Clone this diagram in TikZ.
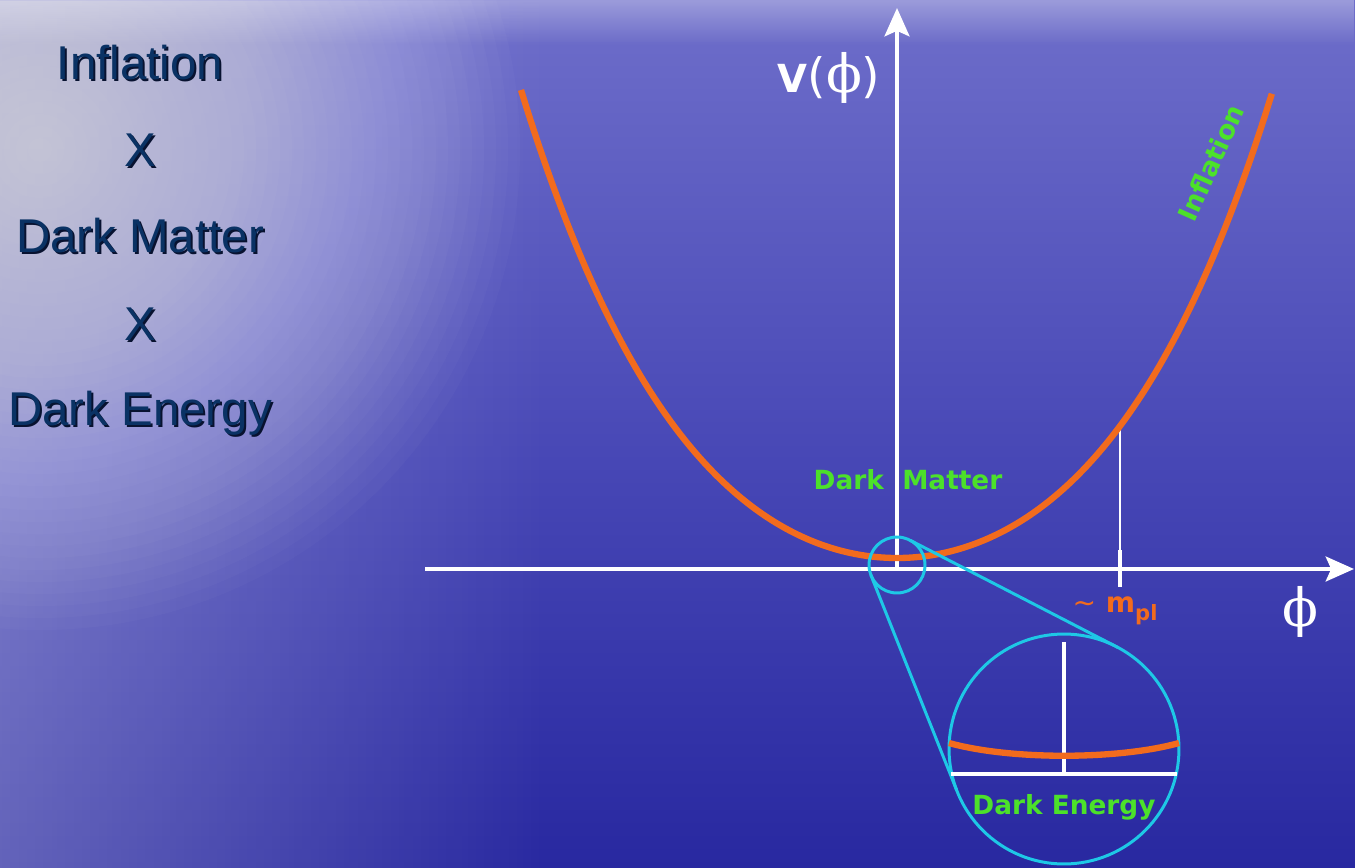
\documentclass[tikz,border=0pt]{standalone}
\usepackage{fontspec}
\setmainfont{Liberation Sans}
\newfontfamily\labelfont{DejaVu Sans}
\newfontfamily\phifont{DejaVu Serif}
\usepackage{tikz}
\usetikzlibrary{arrows.meta, positioning, fadings, calc}
\definecolor{seatop}{RGB}{110,110,202}
\definecolor{seamid}{RGB}{72,72,182}
\definecolor{seabottom}{RGB}{40,40,160}
\definecolor{navytext}{HTML}{0A3264}
\definecolor{navyshade}{HTML}{081230}
\definecolor{potorange}{HTML}{F26B1D}
\definecolor{labelgreen}{HTML}{4CE12A}
\definecolor{lenscyan}{HTML}{1EC8E6}

\begin{document}
\begin{tikzpicture}[
        x=0.02cm, y=-0.02cm,
        lefttext/.style = {anchor=base, font=\fontsize{27}{30}\selectfont, text=navytext, inner sep=0pt},
        greenlabel/.style = {font=\labelfont\bfseries\fontsize{15}{18}\selectfont, text=labelgreen, inner sep=0pt},
        axis/.style = {draw=white, line width=2.8pt, -{Stealth[length=16pt, width=14pt, inset=3pt]}},
        potential/.style = {draw=potorange, line width=3.6pt},
        lens/.style = {draw=lenscyan, line width=1.7pt, circle, inner sep=0pt, outer sep=0pt},
        tick/.style = {draw=white, line width=2.2pt},
        guide/.style = {draw=white, line width=0.7pt}
    ]

        % background
        \useasboundingbox (0,0) rectangle (1355,868);
        \shade[top color=seatop, bottom color=seamid] (0,0) rectangle (1355,451);
        \shade[top color=seamid, bottom color=seabottom] (0,450) rectangle (1355,868);
        \fill[white, opacity=0.35, path fading=east] (-150,0) rectangle (550,868);
        \foreach \r in {12,24,...,480}
            \fill[white, opacity=0.022] (40,150) circle (\r);
        \fill[white, opacity=0.45, path fading=south] (0,-20) rectangle (1355,45);

        % left column
        \foreach \txt/\ypos [count=\i] in {Inflation/80, X/167, Dark Matter/253, X/340, Dark Energy/425} {
            \node[lefttext, text=navyshade] (shade\i) at (142,\ypos+2) {\txt};
            \node[lefttext] (left\i) at (140,\ypos) {\txt};
        }

        % axes
        \coordinate (origin) at (897,569);
        \coordinate (xstart) at (425,569);
        \coordinate (xend) at (1354,569);
        \coordinate (ytop) at (897,8);
        \coordinate (mpl) at (1120,569);
        \coordinate (mplcurve) at (1120,428);

        \draw[axis] (xstart) -- (xend);
        \draw[axis] (origin) -- (ytop);
        \draw[tick] ($(mpl)+(0,-19)$) -- ($(mpl)+(0,18)$);
        \draw[guide] (mplcurve) -- ($(mpl)+(0,-19)$);

        \draw[potential] plot[domain=-3.76:3.75, samples=120, smooth]
            ({897+100*\x}, {558-22.97*\x*\x-0.717*\x*\x*\x*\x});

        \node (vlabel) at (829,78) {\color{white}\labelfont\bfseries\fontsize{22}{26}\selectfont V\mdseries\fontsize{27}{30}\selectfont(\phifont\fontsize{30}{30}\selectfont ϕ\labelfont\fontsize{27}{30}\selectfont)};
        \node[text=white, font=\phifont\fontsize{30}{30}\selectfont] (philabel) at (1300,612) {ϕ};
        \node[anchor=base, text=potorange, font=\labelfont\bfseries\fontsize{16}{18}\selectfont, inner sep=0pt] (mpllabel) at (1115,612)
            {\mdseries\textasciitilde\bfseries\ m\raisebox{-0.3em}{\fontsize{12}{12}\selectfont pl}};

        \node[greenlabel, anchor=base] (dmlabel) at (908,489) {Dark\hspace{0.7em}Matter};
        \node[greenlabel, rotate=66] (inflabel) at (1211,163) {Inflation};

        % zoom on the minimum
        \node[lens, minimum size=1.12cm] (zoomsmall) at (897,565) {};
        \node[lens, minimum size=4.6cm] (zoombig) at (1064,749) {};
        \draw[lens] (zoomsmall.62.7) -- (zoombig.62.7);
        \draw[lens] (zoomsmall.201.7) -- (zoombig.201.7);

        \coordinate (lensleft) at (951,774);
        \coordinate (lensright) at (1177,774);
        \coordinate (lenstop) at (1064,642);
        \coordinate (lensaxis) at (1064,774);
        \draw[tick] (lensleft) -- (lensright);
        \draw[tick] (lensaxis) -- (lenstop);
        \draw[potential] (949,743) .. controls (1010,760) and (1118,760) .. (1179,743);

        \node[greenlabel, anchor=base] (delabel) at (1064,814) {Dark Energy};

    \end{tikzpicture}
\end{document}
